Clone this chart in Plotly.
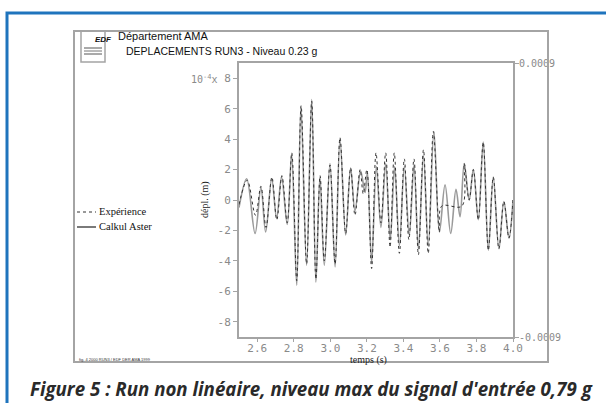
import plotly.graph_objects as go

# ---- data (values in units of 1e-4 m) ----
t_exp = [2.500, 2.545, 2.590, 2.620, 2.648, 2.680, 2.707, 2.735, 2.764, 2.789,
         2.816, 2.840, 2.870, 2.898, 2.921, 2.944, 2.967, 2.998, 3.026, 3.053,
         3.084, 3.111, 3.135, 3.163, 3.180, 3.200, 3.226, 3.250, 3.277, 3.303,
         3.327, 3.350, 3.378, 3.405, 3.430, 3.458, 3.482, 3.510, 3.536, 3.564,
         3.597, 3.610, 3.720, 3.733, 3.760, 3.783, 3.810, 3.837, 3.865, 3.892,
         3.923, 3.950, 3.978, 4.000]
v_exp = [-0.3, 1.3, -1.0, 0.9, -1.8, 1.5, -1.3, 1.6, -1.5, 3.1,
         -5.3, 6.2, -4.2, 6.5, -5.2, 1.6, -4.0, 2.3, -4.2, 4.1,
         -2.2, 2.1, -1.0, 2.0, 0.4, 2.0, -4.5, 3.1, -1.5, 3.1,
         -3.1, 3.1, -3.5, 2.7, -2.6, 2.7, -3.6, 3.3, -3.5, 4.5,
         -2.1, -0.4, -0.4, 2.4, 0.0, 2.0, -1.3, 3.8, -3.3, 1.5,
         -3.2, -0.1, -2.5, 0.0]

t_calc = [2.500, 2.542, 2.588, 2.620, 2.646, 2.679, 2.706, 2.733, 2.764, 2.788,
          2.816, 2.839, 2.870, 2.898, 2.921, 2.943, 2.967, 2.998, 3.026, 3.053,
          3.084, 3.111, 3.135, 3.166, 3.190, 3.203, 3.226, 3.252, 3.277, 3.303,
          3.328, 3.352, 3.378, 3.405, 3.432, 3.458, 3.482, 3.510, 3.536, 3.567,
          3.597, 3.628, 3.659, 3.688, 3.710, 3.733, 3.760, 3.783, 3.810, 3.837,
          3.865, 3.892, 3.923, 3.950, 3.978, 4.000]
v_calc = [-0.5, 1.4, -2.2, 0.8, -2.1, 1.4, -1.2, 1.5, -1.6, 3.0,
          -5.6, 6.1, -4.3, 6.6, -5.4, 1.5, -4.3, 2.4, -4.4, 4.0,
          -2.3, 2.1, -0.7, 1.9, 0.5, 1.8, -4.1, 2.2, -1.8, 2.4,
          -2.6, 2.2, -3.0, 2.2, -2.3, 2.3, -3.2, 2.9, -3.0, 4.5,
          -2.1, 1.0, -2.2, 0.7, -1.1, 2.4, 0.0, 2.0, -1.3, 3.8,
          -3.3, 1.5, -3.2, -0.1, -2.5, 0.0]

x_ticks = [2.6, 2.8, 3.0, 3.2, 3.4, 3.6, 3.8, 4.0]
y_ticks = [-8, -6, -4, -2, 0, 2, 4, 6, 8]
right_ticks = [-9, 9]
right_labels = ["-0.0009", "0.0009"]
legend_labels = ["Expérience", "Calkul Aster"]

# ---- layout helpers (pixel -> paper) ----
W, H = 606, 403
L, R, T, B = 239, 93, 63, 66
PW, PH = W - L - R, H - T - B


def px(x):
    return (x - L) / PW


def py(y):
    return (H - B - y) / PH


GRAY = "#a4a4a4"
TICKC = "#8a8a8a"
MONO = "DejaVu Sans Mono"

fig = go.Figure()
fig.add_trace(go.Scatter(x=t_calc, y=v_calc, mode="lines", name=legend_labels[1], showlegend=False,
                         line=dict(color="#9a9a9a", width=1.6, shape="spline", smoothing=1.0)))
fig.add_trace(go.Scatter(x=t_exp, y=v_exp, mode="lines", name=legend_labels[0], showlegend=False,
                         line=dict(color="#333333", width=1.0, dash="dot", shape="spline", smoothing=1.0)))
# dummy trace so the right axis is drawn
fig.add_trace(go.Scatter(x=[None], y=[None], yaxis="y2", showlegend=False, hoverinfo="skip"))

fig.update_layout(
    width=W, height=H,
    margin=dict(l=L, r=R, t=T, b=B),
    paper_bgcolor="white", plot_bgcolor="white",
    showlegend=False,
    xaxis=dict(range=[2.5, 4.0], tickvals=x_ticks, ticktext=[f"{v:.1f}" for v in x_ticks],
               showgrid=False, zeroline=False, showline=True, linecolor=GRAY, linewidth=2,
               mirror=True, ticks="outside", ticklen=3, tickcolor=GRAY, tickwidth=1,
               ticklabelstandoff=-3,
               tickfont=dict(family=MONO, size=11, color=TICKC)),
    yaxis=dict(range=[-9, 9], tickvals=y_ticks, ticktext=[str(v) for v in y_ticks],
               showgrid=False, zeroline=False, showline=True, linecolor=GRAY, linewidth=2,
               mirror=True, ticks="outside", ticklen=4, tickcolor=GRAY, tickwidth=1,
               tickfont=dict(family=MONO, size=11, color=TICKC)),
    yaxis2=dict(range=[-9, 9], overlaying="y", side="right", tickvals=right_ticks,
                ticktext=right_labels, showgrid=False, zeroline=False, showline=False,
                ticks="outside", ticklen=5, tickcolor=GRAY, tickwidth=1,
                ticklabelstandoff=-2,
                tickfont=dict(family=MONO, size=10, color=TICKC)),
)

shapes = [
    # blue outer frame
    dict(type="rect", xref="paper", yref="paper", x0=px(7), y0=py(13), x1=px(612), y1=py(410),
         line=dict(color="#1f74bd", width=3)),
    # gray document frame
    dict(type="rect", xref="paper", yref="paper", x0=px(74), y0=py(31), x1=px(548), y1=py(362),
         line=dict(color=GRAY, width=2)),
    # logo box and its inner marks
    dict(type="rect", xref="paper", yref="paper", x0=px(81), y0=py(31), x1=px(105), y1=py(62),
         line=dict(color=GRAY, width=1.5)),
    dict(type="line", xref="paper", yref="paper", x0=px(84), y0=py(48), x1=px(102), y1=py(48),
         line=dict(color="#555", width=1)),
    dict(type="line", xref="paper", yref="paper", x0=px(84), y0=py(51), x1=px(102), y1=py(51),
         line=dict(color="#777", width=1)),
    dict(type="line", xref="paper", yref="paper", x0=px(84), y0=py(54), x1=px(102), y1=py(54),
         line=dict(color="#555", width=1)),
    # legend samples
    dict(type="line", xref="paper", yref="paper", x0=px(77), y0=py(212), x1=px(96), y1=py(212),
         line=dict(color="#333333", width=1, dash="dot")),
    dict(type="line", xref="paper", yref="paper", x0=px(77), y0=py(227), x1=px(96), y1=py(227),
         line=dict(color="#222222", width=1.2)),
]
fig.update_layout(shapes=shapes)

ann = [
    dict(text="<b><i>EDF</i></b>", x=px(93), y=py(39), font=dict(family="Liberation Sans", size=8, color="#111")),
    dict(text="Département AMA", x=px(116), y=py(36), xanchor="left",
         font=dict(family="Liberation Sans", size=11, color="#111")),
    dict(text="DEPLACEMENTS RUN3 - Niveau 0.23 g", x=px(124), y=py(51), xanchor="left",
         font=dict(family="Liberation Sans", size=10.5, color="#111")),
    dict(text="10<sup>-4</sup>x", x=px(220), y=py(79), xanchor="right",
         font=dict(family=MONO, size=10, color=TICKC)),
    dict(text="dépl. (m)", x=px(197), y=py(200), textangle=-90,
         font=dict(family="Liberation Serif", size=10, color="#222")),
    dict(text="temps (s)", x=px(368), y=py(359.5),
         font=dict(family="Liberation Serif", size=10, color="#222")),
    dict(text=legend_labels[0], x=px(97), y=py(212), xanchor="left",
         font=dict(family="Liberation Serif", size=10.5, color="#111")),
    dict(text=legend_labels[1], x=px(97), y=py(227), xanchor="left",
         font=dict(family="Liberation Serif", size=10.5, color="#111")),
    dict(text="fig. 4 2000 RUN3 / EDF DER AMA 1999", x=px(77), y=py(359), xanchor="left",
         font=dict(family="Liberation Sans", size=4, color="#333")),
    dict(text="<b><i>Figure 5 : Run non linéaire, niveau max du signal d'entrée 0,79 g</i></b>",
         x=px(28), y=py(388), xanchor="left",
         font=dict(family="Open Sans", size=18.7, color="#2a2a2a")),
]
for a in ann:
    a.setdefault("xref", "paper")
    a.setdefault("yref", "paper")
    a.setdefault("showarrow", False)
    a.setdefault("yanchor", "middle")
fig.update_layout(annotations=ann)

fig.write_html("out.html")
